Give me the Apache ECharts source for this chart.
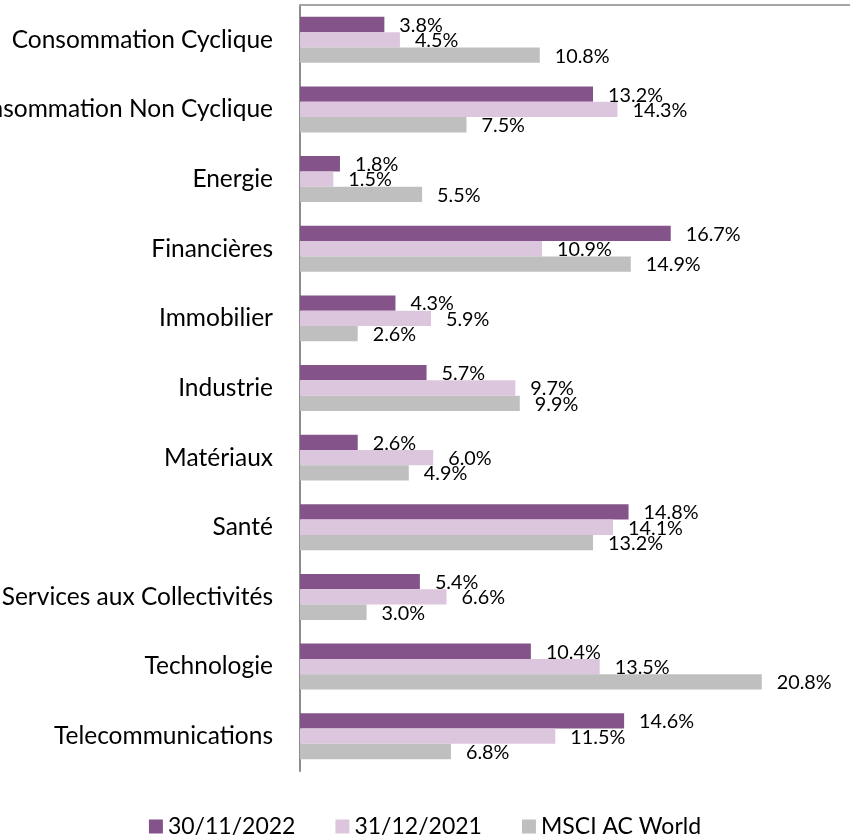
<!DOCTYPE html>
<html>
<head>
<meta charset="utf-8">
<script src="https://cdn.jsdelivr.net/npm/echarts@6/dist/echarts.min.js"></script>
<style>
  html, body { margin: 0; padding: 0; background: #fff; }
  #chart { width: 850px; height: 837px; }
</style>
</head>
<body>
<div id="chart"></div>
<script>
const categories = [
  'Consommation Cyclique',
  'Consommation Non Cyclique',
  'Energie',
  'Financières',
  'Immobilier',
  'Industrie',
  'Matériaux',
  'Santé',
  'Services aux Collectivités',
  'Technologie',
  'Telecommunications'
];
const nov2022 = [3.8, 13.2, 1.8, 16.7, 4.3, 5.7, 2.6, 14.8, 5.4, 10.4, 14.6];
const dec2021 = [4.5, 14.3, 1.5, 10.9, 5.9, 9.7, 6.0, 14.1, 6.6, 13.5, 11.5];
const msciWorld = [10.8, 7.5, 5.5, 14.9, 2.6, 9.9, 4.9, 13.2, 3.0, 20.8, 6.8];

const FONT = 'Lato';

const label = {
  show: true,
  position: 'right',
  distance: 15,
  offset: [0, 1],
  color: '#000',
  fontFamily: FONT,
  fontSize: 19.8,
  formatter: p => p.value.toFixed(1) + '%'
};

const mkSeries = (name, data, color) => ({
  name,
  type: 'bar',
  data,
  barGap: '0%',
  barCategoryGap: '34%',
  itemStyle: { color },
  label,
  emphasis: { disabled: true }
});

const chart = echarts.init(document.getElementById('chart'));
chart.setOption({
  animation: false,
  grid: {
    left: 300, top: 5, width: 555, height: 766,
    containLabel: false, outerBoundsMode: 'none'
  },
  legend: {
    top: 810,
    left: 'center',
    icon: 'rect',
    itemWidth: 14,
    itemHeight: 14,
    itemGap: 40,
    textStyle: { fontFamily: FONT, fontSize: 23, color: '#000' },
    data: ['30/11/2022', '31/12/2021', 'MSCI AC World']
  },
  xAxis: {
    type: 'value',
    position: 'top',
    min: 0,
    max: 25,
    axisLine: { show: true, lineStyle: { color: '#a6a6a6', width: 2 } },
    axisTick: { show: false },
    axisLabel: { show: false },
    splitLine: { show: false }
  },
  yAxis: {
    type: 'category',
    inverse: true,
    data: categories,
    axisLine: { show: true, lineStyle: { color: '#8c8c8c', width: 2 } },
    axisTick: { show: false },
    axisLabel: { margin: 27, color: '#000', fontFamily: FONT, fontSize: 24.5 }
  },
  series: [
    mkSeries('30/11/2022', nov2022, '#845389'),
    mkSeries('31/12/2021', dec2021, '#dcc6de'),
    mkSeries('MSCI AC World', msciWorld, '#bfbfbf')
  ]
});
</script>
</body>
</html>
